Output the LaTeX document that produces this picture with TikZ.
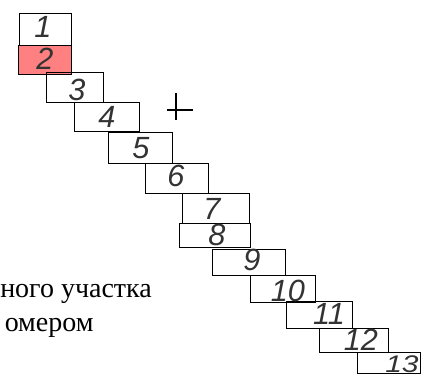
\documentclass[tikz,border=0pt]{standalone}
\usepackage{fontspec}
\setmainfont{Liberation Serif}
\newfontfamily\numfont{Liberation Sans}
\definecolor{redcell}{HTML}{FF8080}
\tikzset{
	cell/.style={draw=black,line width=0.95pt,inner sep=0pt,anchor=north west},
	num/.style={inner sep=0pt,font=\numfont\itshape\fontsize{23}{23}\selectfont,text=black!80},
	smallnum/.style={num,font=\numfont\itshape\fontsize{18}{18}\selectfont,xscale=1.25,transform shape},
	caption/.style={inner sep=0pt,anchor=base west,font=\fontsize{21}{21}\selectfont}
}
\begin{document}
\begin{tikzpicture}[x=0.75pt,y=-0.75pt]
	\useasboundingbox (0,0) rectangle (429,383);
	% cells of the strip
	\begin{scope}[every node/.style={cell}]
		\node [minimum width=39pt,minimum height=24pt] (c1) at (19,13) {};
		\node [minimum width=39.75pt,minimum height=21.75pt,fill=redcell] (c2) at (18,45) {};
		\node [minimum width=42.75pt,minimum height=22.5pt] (c3) at (46,72) {};
		\node [minimum width=48.75pt,minimum height=21.75pt] (c4) at (74,102) {};
		\node [minimum width=48pt,minimum height=23.25pt] (c5) at (108,132) {};
		\node [minimum width=47.25pt,minimum height=22.5pt] (c6) at (145,163) {};
		\node [minimum width=50.25pt,minimum height=22.5pt] (c7) at (182,193) {};
		\node [minimum width=53.25pt,minimum height=18pt] (c8) at (179,223) {};
		\node [minimum width=54.75pt,minimum height=19.5pt] (c9) at (212,249) {};
		\node [minimum width=48.75pt,minimum height=20.25pt] (c10) at (250,275) {};
		\node [minimum width=49.5pt,minimum height=20.25pt] (c11) at (286,301) {};
		\node [minimum width=51.75pt,minimum height=18pt] (c12) at (319,328) {};
		\node [minimum width=47.25pt,minimum height=15.75pt] (c13) at (357,352) {};
	\end{scope}
	% numbers
	\begin{scope}[every node/.style={num}]
		\node (n1) at (43,27) {1};
		\node (n2) at (45,59) {2};
		\node (n3) at (77,90) {3};
		\node (n4) at (107,117) {4};
		\node (n5) at (141,148) {5};
		\node (n6) at (176,176) {6};
		\node (n7) at (212,209) {7};
		\node (n8) at (217,235) {8};
		\node (n9) at (252,260) {9};
		\node (n10) at (288,291) {10};
		\node (n11) at (329,314) {11};
		\node (n12) at (361,340) {12};
		\node [smallnum] (n13) at (402,364) {13};
	\end{scope}
	% cross
	\coordinate (crossW) at (167,110);
	\coordinate (crossE) at (193,110);
	\coordinate (crossN) at (176,93);
	\coordinate (crossS) at (176,120);
	\draw [line width=0.95pt] (crossW) -- (crossE);
	\draw [line width=0.95pt] (crossN) -- (crossS);
	% text
	\node [caption] (line1) at (0,297) {ного участка};
	\node [caption] (line2) at (4.5,331) {омером};
\end{tikzpicture}
\end{document}
